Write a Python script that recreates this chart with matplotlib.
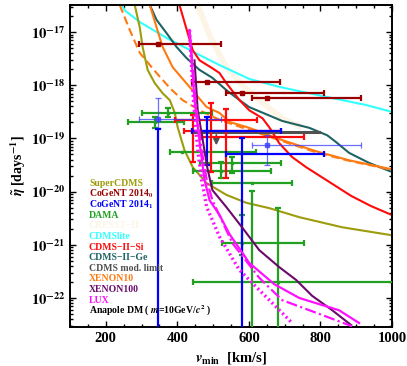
import numpy as np
import matplotlib.pyplot as plt
from matplotlib.ticker import FixedLocator, MultipleLocator, LogLocator, NullFormatter, FuncFormatter

plt.rcParams['font.family'] = ['Liberation Serif', 'DejaVu Serif']
plt.rcParams['mathtext.fontset'] = 'stix'
plt.rcParams['font.weight'] = 'bold'
plt.rcParams['axes.labelweight'] = 'bold'

# ---- limit curves: v_min [km/s] and log10(eta) ----
supercdms_v = [281, 295, 303, 317, 337, 359, 379, 393, 401, 420, 443, 482, 537, 593, 657, 741, 861, 1000]
supercdms_log = [-16.49, -16.91, -17.28, -17.71, -17.96, -18.15, -18.28, -18.52, -18.79, -19.22, -19.54,
                 -19.84, -20.06, -20.21, -20.31, -20.48, -20.67, -20.82]

cream_v = [457, 490, 537, 582, 629, 693, 741]
cream_log = [-16.49, -17.06, -17.66, -18.00, -18.28, -18.62, -18.77]

cdmslite_v = [245, 253, 295, 370, 462, 518, 601, 685, 741, 833, 927, 1000]
cdmslite_log = [-16.49, -16.59, -16.81, -17.11, -17.43, -17.62, -17.88, -18.03, -18.11, -18.24, -18.37, -18.50]

cdmssi_v = [406, 429, 443, 462, 498, 518, 537, 574, 601, 638, 657, 685, 721, 760, 816, 886, 941, 1000]
cdmssi_log = [-16.49, -17.02, -17.34, -17.53, -17.68, -17.77, -17.96, -18.28, -18.47, -18.62, -18.79,
              -19.09, -19.35, -19.54, -19.78, -20.08, -20.27, -20.44]

cdmsge_v = [323, 342, 370, 398, 426, 462, 498, 537, 574, 601, 693, 769, 819, 844, 880, 936, 1000]
cdmsge_log = [-16.49, -16.77, -17.02, -17.28, -17.49, -17.71, -17.86, -18.09, -18.28, -18.41, -18.67,
              -18.80, -18.94, -19.07, -19.27, -19.46, -19.63]

xenon10_v = [323, 342, 359, 387, 434, 482, 518, 546, 601, 693, 788, 880, 1000]
xenon10_log = [-16.49, -16.91, -17.28, -17.66, -18.03, -18.41, -18.52, -18.69, -18.80, -19.03, -19.24, -19.41, -19.58]

xenon10b_v = [239, 267, 295, 342, 379, 415, 462, 518, 601, 693, 788, 880, 1000]
xenon10b_log = [-16.49, -16.96, -17.39, -17.77, -18.05, -18.28, -18.47, -18.65, -18.84, -19.05, -19.26, -19.42, -19.59]

xenon100_v = [448, 457, 471, 484, 498, 537, 582, 629, 685, 732, 777, 833, 886]
xenon100_log = [-17.53, -18.47, -19.03, -19.56, -19.97, -20.29, -20.68, -21.10, -21.42, -21.66, -21.96, -22.23, -22.51]

lux_v = [434, 448, 465, 476, 490, 518, 546, 601, 671, 741, 852, 908]
lux_log = [-16.96, -18.28, -19.22, -19.78, -20.16, -20.44, -20.80, -21.34, -21.74, -22.00, -22.23, -22.47]

lux_dd_v = [434, 451, 468, 482, 498, 554, 629, 693, 797, 888]
lux_dd_log = [-16.96, -18.28, -19.22, -19.78, -20.16, -20.97, -21.62, -22.04, -22.30, -22.53]

lux_dot_v = [434, 445, 457, 468, 482, 518, 573, 638, 721]
lux_dot_log = [-16.96, -18.28, -19.22, -19.78, -20.29, -20.85, -21.47, -21.91, -22.47]

# CDMS modulation limit (horizontal bound + arrow)
cdmsmod_v = [440, 797]
cdmsmod_log = -18.88
cdmsmod_arrow_v = 509

# ---- measurements (horizontal bars: center, lo, hi, log eta) ----
cogent0_vc = [345, 484, 582, 652]
cogent0_vlo = [292, 440, 537, 610]
cogent0_vhi = [521, 688, 810, 913]
cogent0_log = [-17.23, -17.94, -18.15, -18.24]

cogent1_hvc = [484, 582]
cogent1_hvlo = [440, 535]
cogent1_hvhi = [691, 810]
cogent1_hlog = [-18.86, -19.29]
cogent1_vv = [345, 484, 582]
cogent1_vtop = [-18.82, -18.60, -18.99]
cogent1_vbot = [-24.0, -19.50, -24.0]

cogent1q_vc = [345, 652]
cogent1q_vlo = [292, 610]
cogent1q_vhi = [521, 913]
cogent1q_log = [-18.64, -19.12]
cogent1q_logtop = [-18.24, -18.94]
cogent1q_logbot = [-18.80, -19.50]

si_hvc = [445, 493, 537]
si_hvlo = [393, 420, 468]
si_hvhi = [624, 690, 755]
si_hlog = [-18.65, -18.86, -18.97]
si_vv = [445, 493, 537]
si_vtop = [-18.56, -18.33, -18.45]
si_vbot = [-19.44, -19.63, -19.74]

dama_hvc = [373, 337, 412, 554, 523, 610, 582, 680]
dama_hvlo = [301, 262, 379, 462, 443, 498, 526, 443]
dama_hvhi = [498, 420, 621, 691, 663, 721, 755, 1050]
dama_hlog = [-18.52, -18.69, -19.26, -19.46, -19.61, -19.84, -20.97, -21.70]
dama_vv = [373, 337, 554, 523, 610, 680, 582]
dama_vtop = [-18.43, -18.60, -19.35, -19.44, -19.99, -20.31, -20.44]
dama_vbot = [-18.60, -18.80, -19.65, -19.74, -24.0, -24.0, -21.2]

labels = ['SuperCDMS', r'CoGeNT 2014$_\mathbf{0}$', r'CoGeNT 2014$_\mathbf{1}$', 'DAMA', 'CRESST\u2212II',
          'CDMSlite', 'CDMS\u2212II\u2212Si', 'CDMS\u2212II\u2212Ge', 'CDMS mod. limit', 'XENON10',
          'XENON100', 'LUX', r'Anapole DM ( $m$=10GeV/$c^2$ )']

c_olive = '#9c9c0c'
c_dred = '#990000'
c_blue = '#0000ff'
c_green = '#22a022'
c_cream = '#fcf4e4'
c_cyan = '#33ffff'
c_red = '#ff0a0a'
c_teal = '#1f6363'
c_gray = '#505050'
c_orange = '#ff7a10'
c_purple = '#6a0a6a'
c_mag = '#ff10ff'
label_colors = [c_olive, c_dred, c_blue, c_green, c_cream, c_cyan, c_red, c_teal, c_gray,
                c_orange, c_purple, c_mag, 'black']

fig = plt.figure(figsize=(4.07, 3.66), dpi=100)
ax = fig.add_axes([70 / 407, 1 - 327 / 366, 322 / 407, 322 / 366])


def p(v, lg):
    return np.array(v), 10 ** np.array(lg, dtype=float)


def hbars(vc, vlo, vhi, lg, color, lw=1.6, alpha=1.0, z=3, ms=3):
    vc = np.array(vc)
    ax.errorbar(vc, 10 ** np.array(lg), xerr=[vc - np.array(vlo), np.array(vhi) - vc], fmt='s', ms=ms,
                color=color, ecolor=color, elinewidth=lw, capsize=2.2, capthick=lw, alpha=alpha, zorder=z)


def vbars(vv, top, bot, color, lw=1.6, alpha=1.0, z=3):
    top = 10 ** np.array(top)
    bot = 10 ** np.array(bot)
    mid = np.sqrt(top * bot)
    ax.errorbar(vv, mid, yerr=[mid - bot, top - mid], fmt='none', ecolor=color, elinewidth=lw,
                capsize=2.2, capthick=lw, alpha=alpha, zorder=z)


ax.plot(*p(cream_v, cream_log), color=c_cream, lw=4, zorder=1)
ax.plot(*p(cdmslite_v, cdmslite_log), color=c_cyan, lw=1.5, zorder=2)
ax.plot(*p(cdmsge_v, cdmsge_log), color=c_teal, lw=1.5, zorder=2)
ax.plot(*p(xenon10b_v, xenon10b_log), color=c_orange, lw=1.5, ls=(0, (4, 2)), zorder=2)
ax.plot(*p(xenon10_v, xenon10_log), color=c_orange, lw=1.5, zorder=2)
ax.plot(*p(cdmssi_v, cdmssi_log), color=c_red, lw=1.5, zorder=2)
ax.plot(*p(supercdms_v, supercdms_log), color=c_olive, lw=1.5, zorder=2)

ax.plot(cdmsmod_v, [10 ** cdmsmod_log] * 2, color=c_gray, lw=2.2, zorder=2)
ax.annotate('', xy=(cdmsmod_arrow_v, 10 ** -19.18), xytext=(cdmsmod_arrow_v, 10 ** cdmsmod_log),
            arrowprops=dict(arrowstyle='-|>', color=c_gray, lw=1.2, mutation_scale=9), zorder=2)

# data points
hbars(dama_hvc, dama_hvlo, dama_hvhi, dama_hlog, c_green, z=3, ms=2)
vbars(dama_vv, dama_vtop, dama_vbot, c_green, z=3)
hbars(si_hvc, si_hvlo, si_hvhi, si_hlog, c_red, z=4, ms=0)
vbars(si_vv, si_vtop, si_vbot, c_red, z=4)
hbars(cogent0_vc, cogent0_vlo, cogent0_vhi, cogent0_log, c_dred, z=4, ms=3)
hbars(cogent1q_vc, cogent1q_vlo, cogent1q_vhi, cogent1q_log, '#3c3cff', lw=0.9, alpha=0.75, z=5, ms=2.5)
vbars(cogent1q_vc, cogent1q_logtop, cogent1q_logbot, '#3c3cff', lw=0.9, alpha=0.75, z=5)
hbars(cogent1_hvc, cogent1_hvlo, cogent1_hvhi, cogent1_hlog, c_blue, z=5, ms=0)
vbars(cogent1_vv, cogent1_vtop, cogent1_vbot, c_blue, z=5)

ax.plot(*p(xenon100_v, xenon100_log), color=c_purple, lw=1.5, zorder=6)
ax.plot(*p(lux_v, lux_log), color=c_mag, lw=1.6, zorder=7)
ax.plot(*p(lux_dd_v, lux_dd_log), color=c_mag, lw=1.6, ls=(0, (5, 1.5, 1, 1.5)), zorder=7)
ax.plot(*p(lux_dot_v, lux_dot_log), color=c_mag, lw=2.4, ls=(0, (0.6, 0.9)), zorder=7)

ax.set_xlim(100, 1000)
ax.set_yscale('log')
ax.set_ylim(10 ** -22.545, 10 ** -16.49)

ax.xaxis.set_major_locator(FixedLocator([200, 400, 600, 800, 1000]))
ax.xaxis.set_minor_locator(MultipleLocator(50))
ax.yaxis.set_major_locator(FixedLocator([10.0 ** k for k in range(-22, -16)]))
ax.yaxis.set_minor_locator(LogLocator(base=10, subs=np.arange(2, 10), numticks=20))
ax.yaxis.set_minor_formatter(NullFormatter())
ax.yaxis.set_major_formatter(FuncFormatter(lambda val, pos: r'$\mathbf{10^{%d}}$' % round(np.log10(val))))
ax.tick_params(which='both', direction='in', top=True, right=True, labelsize=10.5, width=1)
ax.tick_params(which='major', length=4)
ax.tick_params(which='minor', length=2.2)
for lab in ax.get_xticklabels():
    lab.set_fontweight('bold')
for s in ax.spines.values():
    s.set_linewidth(1.4)

ax.set_xlabel(r'$v_{\rm min}$  [km/s]', fontsize=10.5, labelpad=4)
ax.set_ylabel(r'$\tilde{\eta}$ [days$^{-1}$]', fontsize=10, labelpad=2)

for i, (lab, col) in enumerate(zip(labels, label_colors)):
    ax.text(0.059, 0.447 - i * 0.0331, lab, color=col, fontsize=7, fontweight='bold',
            transform=ax.transAxes, va='center', ha='left', zorder=8)

fig.savefig('out.png', dpi=100)
